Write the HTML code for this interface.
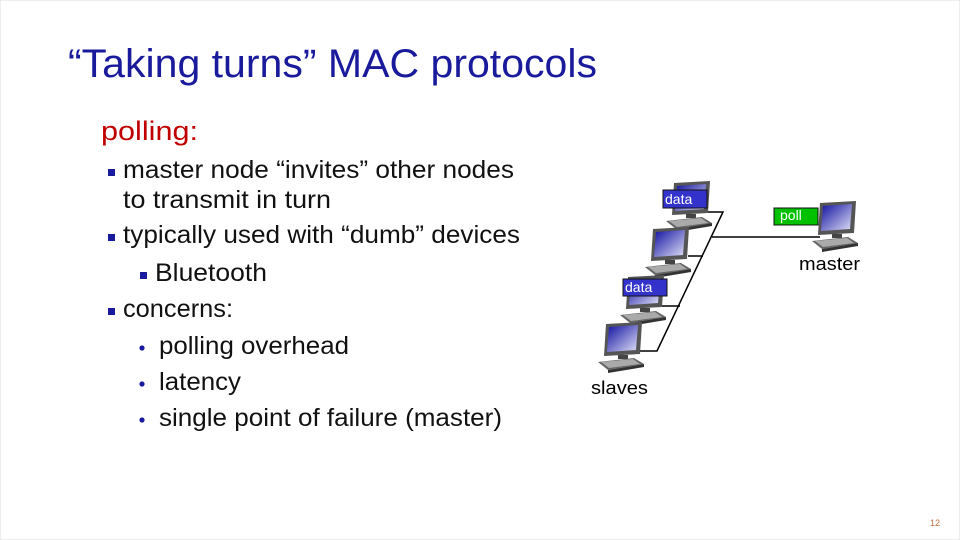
<!DOCTYPE html>
<html><head><meta charset="utf-8"><style>
html,body{margin:0;padding:0;background:#fff;}
svg{display:block;}
</style></head><body>
<svg width="960" height="540" viewBox="0 0 960 540" xmlns="http://www.w3.org/2000/svg" font-family="Liberation Sans, sans-serif">
<defs>
<linearGradient id="scr" x1="0" y1="0" x2="1" y2="1">
<stop offset="0" stop-color="#1010a0"/><stop offset="1" stop-color="#e0e0f8"/>
</linearGradient>
<g id="pc">
<path d="M8 0 L44 -2 L42 30 L6 32 Z" fill="#555"/>
<path d="M11 3 L40 1 L38 26 L9 28 Z" fill="url(#scr)"/>
<rect x="20" y="31" width="10" height="4" fill="#444"/>
<path d="M0 38 L36 34 L46 40 L10 46 Z" fill="#666"/>
<path d="M3 38 L35 35 L42 40 L11 44 Z" fill="#aaa"/>
<path d="M10 46 L46 40 L46 43 L10 49 Z" fill="#333"/>
</g>
</defs>
<rect x="0" y="0" width="960" height="540" fill="#fff" stroke="#ddd"/>
<text x="68" y="77" font-size="40" fill="#1a1a9c" textLength="529" lengthAdjust="spacingAndGlyphs">“Taking turns” MAC protocols</text>
<text x="101" y="140" font-size="27" fill="#c00000" textLength="97" lengthAdjust="spacingAndGlyphs">polling:</text>
<g font-size="25" fill="#111">
<rect x="108" y="169" width="7" height="7" fill="#1a1a9c"/>
<text x="123" y="178" textLength="391" lengthAdjust="spacingAndGlyphs">master node “invites” other nodes</text>
<text x="123" y="208" textLength="208" lengthAdjust="spacingAndGlyphs">to transmit in turn</text>
<rect x="108" y="234" width="7" height="7" fill="#1a1a9c"/>
<text x="123" y="243" textLength="397" lengthAdjust="spacingAndGlyphs">typically used with “dumb” devices</text>
<rect x="140" y="272" width="7" height="7" fill="#1a1a9c"/>
<text x="155" y="281" textLength="112" lengthAdjust="spacingAndGlyphs">Bluetooth</text>
<rect x="108" y="308" width="7" height="7" fill="#1a1a9c"/>
<text x="123" y="317" textLength="110" lengthAdjust="spacingAndGlyphs">concerns:</text>
<circle cx="142" cy="348" r="2.6" fill="#1a1a9c"/>
<text x="159" y="354" textLength="190" lengthAdjust="spacingAndGlyphs">polling overhead</text>
<circle cx="142" cy="384" r="2.6" fill="#1a1a9c"/>
<text x="159" y="390" textLength="82" lengthAdjust="spacingAndGlyphs">latency</text>
<circle cx="142" cy="420" r="2.6" fill="#1a1a9c"/>
<text x="159" y="426" textLength="343" lengthAdjust="spacingAndGlyphs">single point of failure (master)</text>
</g>
<g stroke="#000" stroke-width="1.5" fill="none">
<path d="M700 212 L723 212 L657 351 L640 351"/>
<path d="M688 256 L703 256"/>
<path d="M660 306 L680 306"/>
<path d="M712 237 L820 237"/>
</g>
<use href="#pc" x="666" y="183"/>
<use href="#pc" x="645" y="229"/>
<use href="#pc" x="620" y="277"/>
<use href="#pc" x="598" y="324"/>
<use href="#pc" x="812" y="203"/>
<rect x="663" y="190" width="44" height="18" fill="#3333cc" stroke="#111"/>
<text x="665" y="204" font-size="14" fill="#fff">data</text>
<rect x="623" y="279" width="44" height="17" fill="#3333cc" stroke="#111"/>
<text x="625" y="292" font-size="14" fill="#fff">data</text>
<rect x="774" y="208" width="44" height="17" fill="#00c000" stroke="#111"/>
<text x="780" y="220" font-size="14" fill="#fff">poll</text>
<text x="799" y="270" font-size="18" fill="#000" textLength="61" lengthAdjust="spacingAndGlyphs">master</text>
<text x="591" y="394" font-size="18" fill="#000" textLength="57" lengthAdjust="spacingAndGlyphs">slaves</text>
<text x="930" y="526" font-size="9" fill="#c07040">12</text>
</svg>
</body></html>
